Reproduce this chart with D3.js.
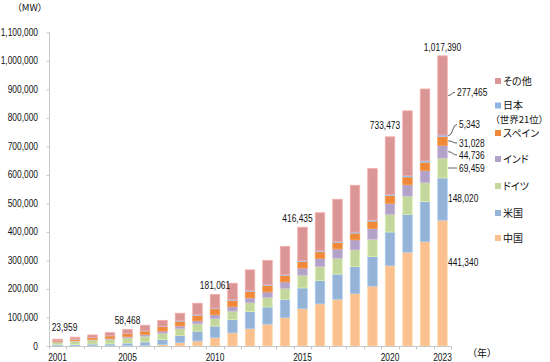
<!DOCTYPE html>
<html><head><meta charset="utf-8">
<script src="https://cdn.jsdelivr.net/npm/d3@7"></script>
<style>
body{margin:0;background:#fff}
svg{display:block}
.num{font-family:"Liberation Sans",Arial,sans-serif;font-size:10px;fill:#111}
.jp{font-family:"Noto Sans CJK JP","Noto Sans",sans-serif;font-size:10px;fill:#111;font-feature-settings:"palt" 1}
</style>
</head><body>
<svg id="c" width="550" height="362"></svg>
<script>
// ---- data (MW) ----
const years = [2001,2002,2003,2004,2005,2006,2007,2008,2009,2010,2011,2012,2013,2014,2015,2016,2017,2018,2019,2020,2021,2022,2023];
const china   = [400,470,570,760,1260,2600,5900,12000,17600,29600,46400,61600,76700,99600,131000,148000,164000,184000,210000,282000,329000,366000,441340];
const usa     = [4200,4700,6300,6700,9100,11600,16800,25000,34300,40200,46900,59100,60000,64200,72600,81300,88000,94400,103600,117700,132700,140900,148020];
const germany = [8750,11980,14380,16420,18250,20470,22120,23900,25700,26900,28700,30980,33480,38610,44580,49440,55580,58840,60920,62180,63760,66320,69459];
const india   = [1450,1700,2100,3000,4430,6270,7850,9590,10930,13180,16080,17350,19560,22470,25090,28700,32850,35140,37530,38560,40070,41930,44736];
const spain   = [3400,4890,5950,8630,10030,11610,15130,16550,19150,20690,21530,22790,22960,22970,22940,22990,23120,23400,25580,26820,27500,29300,31028];
const japan   = [300,460,640,900,1050,1300,1540,1880,2050,2290,2420,2610,2660,2750,3030,3230,3400,3660,3920,4200,4560,4880,5343];
const other   = [5459,6800,8860,10490,14348,19150,20560,25980,40270,48201,57970,72470,84540,98700,117195,133540,147550,164060,180450,202013,227010,251870,277465];
const totalLabels = [[2001,23959],[2005,58468],[2010,181061],[2015,416435],[2020,733473],[2023,1017390]];
const xTickLabels = [2001,2005,2010,2015,2020,2023];
const yTicks = [0,100000,200000,300000,400000,500000,600000,700000,800000,900000,1000000,1100000];
const seriesNames = ["中国","米国","ドイツ","インド","スペイン","日本","その他"];
const seriesColors = ["#FAC090","#95B3D7","#C3D69B","#B3A2C7","#F0883A","#8DB4E2","#D99694"];

// ---- build table ----
const keys = seriesNames;
const cols = [china,usa,germany,india,spain,japan,other];
const table = years.map((y,i)=>{const o={year:y}; keys.forEach((k,j)=>o[k]=cols[j][i]); return o;});
const stack = d3.stack().keys(keys)(table);

const svg = d3.select("#c");
const x = d3.scaleBand().domain(years).range([48.75,451.25]).paddingInner(0.46).paddingOuter(0.23);
const y = d3.scaleLinear().domain([0,1100000]).range([346,32.3]);
const color = d3.scaleOrdinal().domain(keys).range(seriesColors);
const fmt = d3.format(",");

// condensed numeric text helper
function num(g, tx, ty, str, anchor){
  return g.append("text").attr("class","num")
    .attr("transform",`translate(${tx},${ty}) scale(0.84,1)`)
    .attr("text-anchor",anchor||"start").text(str);
}

// bars
svg.append("g").selectAll("g").data(stack).join("g")
  .attr("fill",d=>color(d.key))
  .attr("stroke",d=>d3.color(color(d.key)).brighter(0.35))
  .attr("stroke-width",0.8)
  .selectAll("rect").data(d=>d).join("rect")
  .attr("x",d=>x(d.data.year))
  .attr("width",x.bandwidth())
  .attr("y",d=>y(d[1]))
  .attr("height",d=>Math.max(0,y(d[0])-y(d[1])));

// y axis
const gy = svg.append("g").attr("transform","translate(49.5,0)")
  .call(d3.axisLeft(y).tickValues(yTicks).tickFormat("").tickSize(3));
gy.select(".domain").attr("stroke","#c8c8c8").attr("d","M0,"+y(1100000)+"V"+y(0));
gy.selectAll(".tick line").attr("stroke","#c8c8c8");
const gyl = svg.append("g");
yTicks.forEach(v=>num(gyl, 38, y(v)+3.5, fmt(v), "end"));

// x axis
const gx = svg.append("g");
gx.append("line").attr("x1",49.5).attr("x2",451.5).attr("y1",346.5).attr("y2",346.5).attr("stroke","#c8c8c8");
const step = x.step();
d3.range(years.length+1).forEach(k=>{
  const xx = Math.round(x(years[0]) - x.paddingInner()*step/2 + k*step)+0.5;
  gx.append("line").attr("x1",xx).attr("x2",xx).attr("y1",346.5).attr("y2",349.5).attr("stroke","#c8c8c8");
});
xTickLabels.forEach(d=>num(gx, x(d)+x.bandwidth()/2, 360.5, d, "middle"));

// totals
const gt = svg.append("g");
totalLabels.forEach(d=>{
  const dx = d[0]===2001?7:(d[0]===2015||d[0]===2020?-5:0);
  const dy = (d[0]===2001||d[0]===2020)?8:5;
  num(gt, x(d[0])+x.bandwidth()/2+dx, y(d[1])-dy, fmt(d[1]), "middle");
});

// 2023 component labels
const last = table[table.length-1];
const lastStack = stack.map(s=>({key:s.key, y0:s[s.length-1][0], y1:s[s.length-1][1]}));
const labelY = {"その他":96,"日本":128,"スペイン":146.5,"インド":158.5,"ドイツ":171.5,"米国":202,"中国":266};
const bx = x(2023)+x.bandwidth();
const lbl = svg.append("g");
lastStack.forEach(s=>{
  const mid = y((s.y0+s.y1)/2);
  const ly = labelY[s.key];
  const leader = !(s.key==="米国"||s.key==="中国");
  const tx = leader ? (s.key==="その他"?457:459) : 448;
  if(leader){
    const x0=bx+1, x1=tx-2, y1=ly-3.5;
    lbl.append("path").attr("d",`M${x0},${mid} Q${x0+3},${mid} ${(x0+x1)/2},${(mid+y1)/2} T${x1},${y1}`)
      .attr("fill","none").attr("stroke","#333").attr("stroke-width",0.8);
  }
  num(lbl, tx, ly, fmt(last[s.key]));
});

// legend
const legY = {"その他":81,"日本":105.5,"スペイン":133,"インド":159,"ドイツ":186,"米国":213,"中国":238};
const lg = svg.append("g");
keys.forEach(k=>{
  lg.append("rect").attr("x",495).attr("y",legY[k]-3).attr("width",6).attr("height",6).attr("fill",color(k));
  lg.append("text").attr("class","jp").attr("x",503).attr("y",legY[k]+3.5).text(k);
});
lg.append("text").attr("class","jp").attr("x",495).attr("y",122.5).attr("font-size","9.5px").style("font-size","9.5px").text("（世界21位）");

// unit labels
svg.append("text").attr("class","jp").attr("x",17).attr("y",11).style("font-size","9.5px").text("（MW）");
svg.append("text").attr("class","jp").attr("x",472).attr("y",357).text("（年）");
</script>
</body></html>
